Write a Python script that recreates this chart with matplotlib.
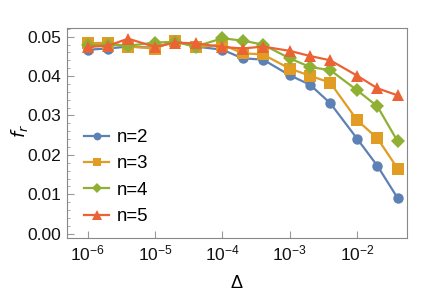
import numpy as np
import matplotlib
matplotlib.use("Agg")
import matplotlib.pyplot as plt
from matplotlib.ticker import LogLocator, NullFormatter, MultipleLocator, FormatStrFormatter

delta = [1e-6, 2e-6, 4e-6, 1e-5, 2e-5, 4e-5, 1e-4, 2e-4, 4e-4,
         1e-3, 2e-3, 4e-3, 1e-2, 2e-2, 4e-2]
n2 = [0.0467, 0.0470, 0.0475, 0.0472, 0.0488, 0.0475, 0.0467, 0.0445, 0.0442,
      0.0402, 0.0378, 0.0331, 0.0241, 0.0172, 0.0090]
n3 = [0.0483, 0.0485, 0.0475, 0.0470, 0.0490, 0.0473, 0.0480, 0.0458, 0.0455,
      0.0419, 0.0401, 0.0383, 0.0288, 0.0242, 0.0165]
n4 = [0.0478, 0.0480, 0.0477, 0.0485, 0.0487, 0.0475, 0.0496, 0.0490, 0.0480,
      0.0445, 0.0423, 0.0415, 0.0364, 0.0323, 0.0234]
n5 = [0.0474, 0.0477, 0.0495, 0.0474, 0.0485, 0.0483, 0.0474, 0.0470, 0.0475,
      0.0464, 0.0451, 0.0440, 0.0401, 0.0369, 0.0351]
labels = ["n=2", "n=3", "n=4", "n=5"]
colors = ["#5E81B5", "#E19C24", "#8FB032", "#EB6235"]
markers = ["o", "s", "D", "^"]
sizes = [7.5, 8.5, 7, 9]

plt.rcParams['font.family'] = ['Liberation Sans', 'DejaVu Sans']
fig = plt.figure(figsize=(4.36, 2.92), dpi=100)
ax = fig.add_axes([0.153, 0.185, 0.7805, 0.719])

for ys, lab, c, m, s in zip([n2, n3, n4, n5], labels, colors, markers, sizes):
    ax.plot(delta, ys, color=c, marker=m, markersize=s, lw=1.6, label=lab,
            markeredgewidth=0)

ax.set_xscale('log')
ax.set_xlim(10**-6.31, 10**-1.26)
ax.set_ylim(-0.0011, 0.0522)
ax.xaxis.set_major_locator(LogLocator(base=10, numticks=10))
ax.xaxis.set_minor_formatter(NullFormatter())
ax.yaxis.set_major_locator(MultipleLocator(0.01))
ax.yaxis.set_minor_locator(MultipleLocator(0.002))
ax.yaxis.set_major_formatter(FormatStrFormatter('%.2f'))
ax.tick_params(which='both', direction='in', top=False, right=False,
               color='#999999', labelsize=12.5, labelcolor='#111111', pad=4)
ax.tick_params(which='major', length=5)
ax.tick_params(which='minor', length=2.5)
ax.tick_params(axis='x', which='minor', length=0)
for sp in ax.spines.values():
    sp.set_color('#888888')

ax.set_xlabel('Δ', fontsize=13, labelpad=8)
ax.set_ylabel('$f_r$', fontsize=13, va='center')
ax.yaxis.set_label_coords(-0.14, 0.51)

ax.legend(loc='center left', bbox_to_anchor=(0.052, 0.29), frameon=False,
          fontsize=13.4, handlelength=1.3, handletextpad=0.45,
          labelspacing=0.5, borderpad=0, borderaxespad=0, markerscale=0.75)

fig.savefig('out.png', dpi=100)
